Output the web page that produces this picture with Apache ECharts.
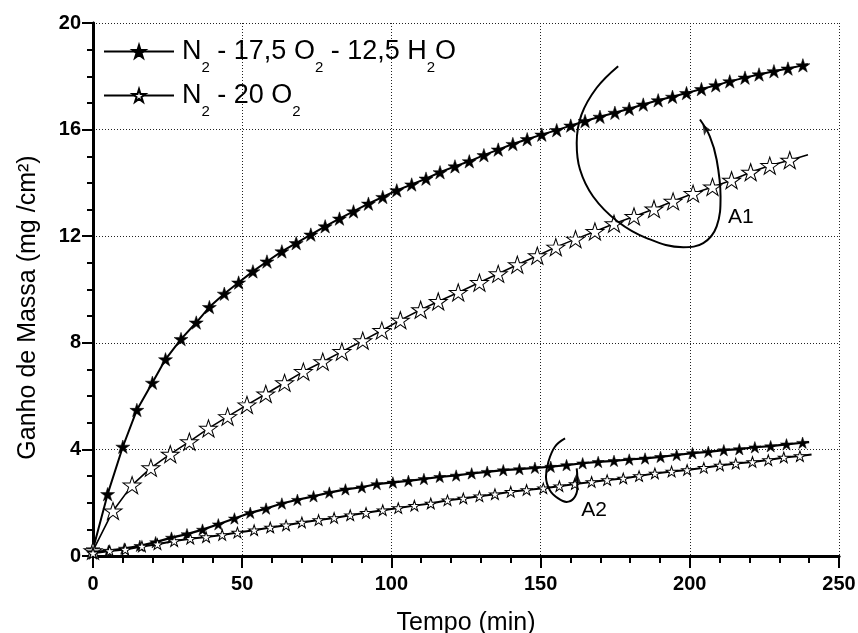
<!DOCTYPE html>
<html><head><meta charset="utf-8">
<script src="https://cdn.jsdelivr.net/npm/echarts@6/dist/echarts.min.js"></script>
<style>html,body{margin:0;padding:0;background:#fff}#c{width:858px;height:633px}</style>
</head><body><div id="c"></div>
<script>
const FONT = '"Liberation Sans", Arial, Helvetica, sans-serif';
const seriesNames = ['N2 - 17,5 O2 - 12,5 H2O', 'N2 - 20 O2'];
const xTitle = 'Tempo (min)';
const yTitle = 'Ganho de Massa (mg /cm\u00B2)';

// A1 group, N2 - 17,5 O2 - 12,5 H2O (filled stars, upper)
const tA1H = [0, 4.9, 10, 14.7, 19.9, 24.3, 29.5, 34.6, 39.0, 44.0, 48.8, 53.6, 58.3, 63.3, 68.1, 73.0, 77.8, 82.6, 87.3, 92.3, 97.1, 101.8, 106.8, 111.6, 116.3, 121.3, 126.1, 131.0, 135.8, 140.7, 145.5, 150.4, 155.4, 160.1, 164.9, 169.9, 174.9, 179.7, 184.4, 189.4, 194.2, 198.9, 203.9, 208.7, 213.4, 218.5, 223.2, 228.2, 232.9, 237.9, 239.6];
const vA1H = [0.25, 2.32, 4.10, 5.48, 6.50, 7.38, 8.14, 8.76, 9.34, 9.84, 10.26, 10.68, 11.05, 11.43, 11.74, 12.06, 12.37, 12.66, 12.93, 13.22, 13.47, 13.72, 13.94, 14.16, 14.40, 14.62, 14.81, 15.04, 15.25, 15.46, 15.64, 15.81, 15.98, 16.15, 16.32, 16.48, 16.63, 16.78, 16.94, 17.10, 17.23, 17.37, 17.52, 17.66, 17.81, 17.95, 18.07, 18.19, 18.29, 18.41, 18.45];
// A1 group, N2 - 20 O2 (hollow stars, upper)
const tA1D = [0, 6.7, 13.1, 19.4, 25.9, 32.3, 38.7, 45.1, 51.6, 57.9, 64.2, 70.5, 77.0, 83.4, 90.4, 96.8, 103.0, 109.8, 115.7, 122.4, 129.5, 135.8, 142.2, 148.9, 155.1, 161.7, 168.2, 174.6, 181.3, 188.0, 194.4, 201.1, 207.6, 214.0, 220.4, 226.8, 233.5, 239.6];
const vA1D = [0.2, 1.69, 2.66, 3.31, 3.82, 4.29, 4.79, 5.23, 5.67, 6.08, 6.50, 6.92, 7.29, 7.67, 8.08, 8.46, 8.85, 9.24, 9.55, 9.89, 10.26, 10.59, 10.93, 11.27, 11.59, 11.89, 12.18, 12.47, 12.74, 13.02, 13.31, 13.60, 13.85, 14.10, 14.40, 14.65, 14.85, 15.06];
// A2 group, N2 - 17,5 O2 - 12,5 H2O (filled stars, lower)
const tA2H = [0, 5.2, 10.5, 15.7, 21.0, 26.3, 31.5, 36.7, 42.0, 47.4, 52.7, 58.0, 63.3, 68.5, 73.9, 79.2, 84.6, 90.1, 95.1, 100.5, 105.7, 110.9, 116.2, 121.7, 126.9, 132.1, 137.5, 142.9, 148.1, 153.4, 158.7, 164.1, 169.3, 174.6, 179.7, 185.0, 190.2, 195.6, 200.9, 206.2, 211.4, 216.6, 221.8, 227.1, 232.4, 237.8, 240.0];
const vA2H = [0.15, 0.2, 0.28, 0.38, 0.52, 0.69, 0.82, 0.99, 1.19, 1.41, 1.62, 1.78, 1.97, 2.11, 2.24, 2.38, 2.50, 2.58, 2.70, 2.76, 2.82, 2.89, 2.97, 3.02, 3.10, 3.16, 3.22, 3.26, 3.31, 3.35, 3.41, 3.48, 3.53, 3.57, 3.62, 3.66, 3.72, 3.79, 3.86, 3.91, 3.97, 4.01, 4.08, 4.12, 4.19, 4.25, 4.27];
// A2 group, N2 - 20 O2 (hollow stars, lower)
const tA2D = [0, 5.6, 10.8, 16.4, 21.6, 27.2, 32.6, 37.9, 43.3, 48.4, 54.0, 59.4, 64.7, 70.0, 75.6, 80.8, 86.2, 91.5, 97.1, 102.3, 107.7, 113.2, 118.8, 124.1, 129.5, 134.7, 140.0, 145.3, 150.9, 156.3, 161.5, 167.1, 172.3, 177.7, 183.0, 188.3, 193.9, 199.1, 204.7, 210.1, 215.4, 221.0, 226.3, 231.5, 236.9, 240.8];
const vA2D = [0.1, 0.19, 0.24, 0.36, 0.44, 0.56, 0.65, 0.71, 0.79, 0.88, 0.97, 1.07, 1.15, 1.26, 1.35, 1.43, 1.53, 1.62, 1.72, 1.80, 1.89, 1.97, 2.09, 2.16, 2.24, 2.32, 2.41, 2.48, 2.54, 2.62, 2.70, 2.78, 2.85, 2.91, 3.00, 3.10, 3.17, 3.23, 3.31, 3.40, 3.47, 3.53, 3.60, 3.70, 3.75, 3.81];

// annotation curves (data coordinates), last point = arrow tip
const arcA1 = [[176.0,18.38],[168.8,17.57],[163.7,16.56],[162.1,15.50],[163.2,14.50],[167.6,13.49],[175.7,12.56],[185.5,11.93],[197.8,11.59],[204.5,11.74],[209.0,12.37],[210.3,13.50],[209.0,14.87],[206.7,15.75],[203.4,16.38]];
const arcA2 = [[158.2,4.41],[154.8,4.10],[152.6,3.53],[151.8,2.97],[153.1,2.47],[155.9,2.16],[158.7,2.03],[161.1,2.16],[162.3,2.53],[162.3,2.97],[162.1,3.29]];
const annLabels = [['A1', 217.1, 12.73], ['A2', 167.9, 1.72]];

const STAR = 'path://M50,0L61.23,34.55L97.55,34.55L68.17,55.9L79.39,90.45L50,69.1L20.61,90.45L31.83,55.9L2.45,34.55L38.77,34.55Z';

function build(ts, vs) {
  return ts.map((t, i) => i === ts.length - 1 ? { value: [t, vs[i]], symbol: 'none' } : [t, vs[i]]);
}
function starSeries(name, ts, vs, filled, size, lw) {
  return {
    type: 'line', name: name, data: build(ts, vs),
    symbol: STAR, symbolSize: size, showAllSymbol: true, smooth: false,
    lineStyle: { color: '#000', width: lw },
    itemStyle: { color: filled ? '#000' : '#fff', borderColor: '#000', borderWidth: filled ? 0.5 : 1 },
    emphasis: { disabled: true }, animation: false, z: 3
  };
}
const legendRich = {
  'N2 - 17,5 O2 - 12,5 H2O': '{m|N}{s|2}{m| - 17,5 O}{s|2}{m| - 12,5 H}{s|2}{m|O}',
  'N2 - 20 O2': '{m|N}{s|2}{m| - 20 O}{s|2}'
};

const chart = echarts.init(document.getElementById('c'), null, { renderer: 'canvas' });
const axisCommon = { min: 0, type: 'value' };
const option = {
  backgroundColor: '#fff',
  animation: false,
  grid: { left: 93, right: 19, top: 23, bottom: 77, containLabel: false, outerBoundsMode: 'none' },
  legend: {
    data: seriesNames, orient: 'vertical', left: 103, top: 38, padding: 0,
    itemWidth: 70, itemHeight: 16, itemGap: 7,
    formatter: n => legendRich[n],
    textStyle: {
      color: '#000', padding: [0, 0, 0, 3],
      rich: {
        m: { fontSize: 27, fontFamily: FONT, color: '#000' },
        s: { fontSize: 15, fontFamily: FONT, color: '#000', padding: [32, 0, 0, 0] }
      }
    },
    selectedMode: false
  },
  xAxis: [
    Object.assign({}, axisCommon, {
      max: 250, interval: 50, position: 'bottom',
      name: xTitle, nameLocation: 'middle', nameGap: 55,
      nameTextStyle: { fontSize: 25, fontFamily: FONT, color: '#000' },
      axisLine: { lineStyle: { color: '#000', width: 3 } },
      axisTick: { length: 12, lineStyle: { color: '#000', width: 2 } },
      minorTick: { show: true, splitNumber: 5, length: 7, lineStyle: { color: '#000', width: 2 } },
      axisLabel: { fontSize: 20, fontWeight: 'bold', fontFamily: FONT, color: '#000', margin: 18 },
      splitLine: { show: true, lineStyle: { color: '#222', width: 1, type: [1, 2] } }
    }),
    Object.assign({}, axisCommon, {
      max: 250, interval: 50, position: 'top',
      axisLine: { show: true, lineStyle: { color: '#000', width: 2.5 } },
      axisTick: { show: true, inside: true, length: 4, lineStyle: { color: '#000', width: 1.5 } },
      minorTick: { show: true, splitNumber: 5, length: 3, lineStyle: { color: '#000', width: 1.5 } },
      axisLabel: { show: false }, splitLine: { show: false }
    })
  ],
  yAxis: [
    Object.assign({}, axisCommon, {
      max: 20, interval: 4, position: 'left',
      name: yTitle, nameLocation: 'middle', nameGap: 52,
      nameTextStyle: { fontSize: 25, fontFamily: FONT, color: '#000', padding: [0, 36, 0, 0] },
      axisLine: { show: true, lineStyle: { color: '#000', width: 3 } },
      axisTick: { show: true, length: 11, lineStyle: { color: '#000', width: 2 } },
      minorTick: { show: true, splitNumber: 4, length: 6, lineStyle: { color: '#000', width: 2 } },
      axisLabel: { fontSize: 20, fontWeight: 'bold', fontFamily: FONT, color: '#000', margin: 12 },
      splitLine: { show: true, lineStyle: { color: '#222', width: 1, type: [1, 2] } }
    }),
    Object.assign({}, axisCommon, {
      max: 20, interval: 4, position: 'right',
      axisLine: { show: true, lineStyle: { color: '#000', width: 2.5 } },
      axisTick: { show: true, inside: true, length: 4, lineStyle: { color: '#000', width: 1.5 } },
      minorTick: { show: true, splitNumber: 4, length: 3, lineStyle: { color: '#000', width: 1.5 } },
      axisLabel: { show: false }, splitLine: { show: false }
    })
  ],
  series: [
    starSeries(seriesNames[0], tA1H, vA1H, true, [14, 13.5], 2),
    starSeries(seriesNames[1], tA1D, vA1D, false, [18, 17], 1.6),
    starSeries(seriesNames[0], tA2H, vA2H, true, [12, 11.5], 2.2),
    starSeries(seriesNames[1], tA2D, vA2D, false, [11, 10.5], 2),
    { type: 'line', name: 'arcA1', data: arcA1, smooth: 0.4, symbol: 'none', silent: true,
      lineStyle: { color: '#000', width: 2 }, z: 4 },
    { type: 'line', name: 'arcA2', data: arcA2, smooth: 0.4, symbol: 'none', silent: true,
      lineStyle: { color: '#000', width: 2 }, z: 4 },
    { type: 'scatter', name: 'arrows', silent: true, z: 5,
      data: [
        { value: arcA1[arcA1.length - 1], symbolRotate: 31, symbolOffset: [2.5, 4.5] },
        { value: arcA2[arcA2.length - 1], symbolRotate: 0, symbolOffset: [0, 4.5] }
      ],
      symbol: 'arrow', symbolSize: [7, 11], itemStyle: { color: '#000' } },
    { type: 'scatter', name: 'labels', silent: true, z: 5,
      data: annLabels.map(a => ({ value: [a[1], a[2]], name: a[0] })),
      symbol: 'circle', symbolSize: 0, itemStyle: { color: '#fff', opacity: 1 },
      label: { show: true, position: 'inside', formatter: p => p.name, opacity: 1,
        textBorderWidth: 0, fontSize: 21, fontFamily: FONT, color: '#000' } }
  ]
};
chart.setOption(option);
</script></body></html>
